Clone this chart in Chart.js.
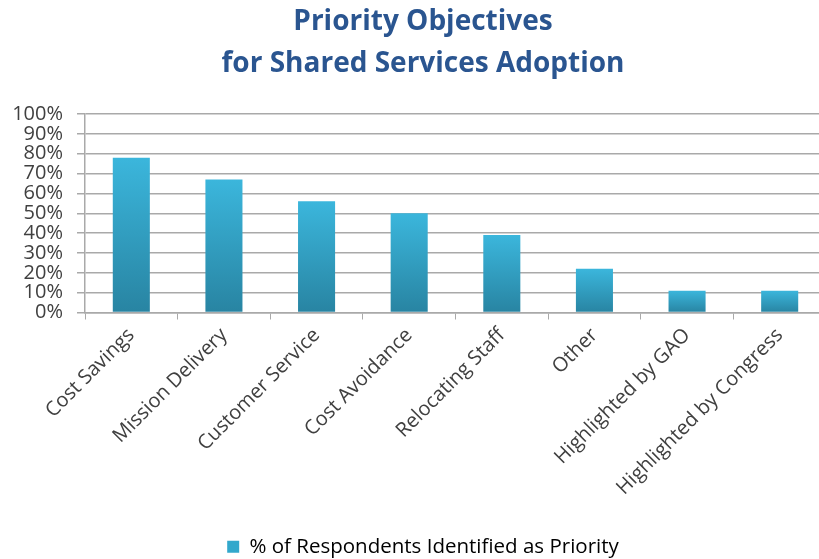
<!DOCTYPE html>
<html>
<head>
<meta charset="utf-8">
<script src="https://cdn.jsdelivr.net/npm/chart.js@4/dist/chart.umd.min.js"></script>
<style>
  html, body { margin: 0; padding: 0; background: #ffffff; overflow: hidden; }
  #wrap { position: relative; width: 846px; height: 567px; }
</style>
</head>
<body>
<div id="wrap"><canvas id="chart"></canvas></div>
<script>
// Survey results: share of respondents naming each objective as a priority
const categories = [
  'Cost Savings', 'Mission Delivery', 'Customer Service', 'Cost Avoidance',
  'Relocating Staff', 'Other', 'Highlighted by GAO', 'Highlighted by Congress'
];
const seriesName = '% of Respondents Identified as Priority';
const percentValues = [78, 67, 56, 50, 39, 22, 11, 11];
const titleLines = ['Priority Objectives', 'for Shared Services Adoption'];

const FONT = "'Open Sans', 'Liberation Sans', sans-serif";
const TEXT = '#404040';
const GRID = '#a9a9a9';
const BAR_TOP = '#3bb6dc';
const BAR_BOTTOM = '#2884a2';

// Each bar gets its own vertical gradient, light at its top and darker at the base
function barFill(ctx) {
  const chart = ctx.chart;
  const y = chart.scales.y;
  if (!chart.chartArea || !y || ctx.raw === undefined) return BAR_TOP;
  const top = y.getPixelForValue(ctx.raw);
  const base = y.getPixelForValue(0);
  if (!isFinite(top) || !isFinite(base) || top === base) return BAR_TOP;
  const g = chart.ctx.createLinearGradient(0, top, 0, base);
  g.addColorStop(0, BAR_TOP);
  g.addColorStop(1, BAR_BOTTOM);
  return g;
}

new Chart(document.getElementById('chart'), {
  type: 'bar',
  data: {
    labels: categories,
    datasets: [{
      label: seriesName,
      data: percentValues,
      backgroundColor: barFill,
      borderWidth: 0,
      categoryPercentage: 0.8,
      barPercentage: 0.5
    }]
  },
  options: {
    responsive: true,
    maintainAspectRatio: false,
    animation: false,
    layout: { padding: { left: 0, right: 0, top: 0, bottom: 0 } },
    plugins: {
      tooltip: { enabled: false },
      title: {
        display: true,
        text: titleLines,
        color: '#2a5590',
        font: { family: FONT, size: 28, weight: 'bold', lineHeight: 1.5 },
        padding: { top: 1, bottom: 29 }
      },
      legend: {
        display: true,
        position: 'bottom',
        labels: {
          color: TEXT,
          font: { family: FONT, size: 20.5, lineHeight: 1 },
          boxWidth: 12,
          boxHeight: 12,
          padding: 0,
          generateLabels: (chart) => [{
            text: seriesName,
            fillStyle: '#32a8cc',
            strokeStyle: '#32a8cc',
            lineWidth: 0,
            datasetIndex: 0,
            hidden: false
          }]
        }
      }
    },
    scales: {
      x: {
        offset: true,
        grid: {
          display: true,
          offset: true,
          drawOnChartArea: false,
          drawTicks: true,
          tickLength: 7,
          color: GRID
        },
        border: { display: true, color: GRID, width: 1.5 },
        ticks: {
          color: TEXT,
          font: { family: FONT, size: 20 },
          minRotation: 45,
          maxRotation: 45,
          autoSkip: false,
          padding: 4
        },
        afterFit: (scale) => { scale.height = 224; }
      },
      y: {
        min: 0,
        max: 100,
        grid: {
          color: GRID,
          lineWidth: 1.5,
          drawTicks: true,
          tickLength: 8
        },
        border: { display: true, color: GRID, width: 1.5 },
        ticks: {
          stepSize: 10,
          autoSkip: false,
          color: TEXT,
          font: { family: FONT, size: 20, lineHeight: 1 },
          padding: 14,
          callback: (v) => v + '%'
        },
        afterFit: (scale) => { scale.width = 85; }
      },
      // blank margin on the right of the plot, nothing drawn
      margin: {
        position: 'right',
        display: true,
        grid: { display: false, drawTicks: false },
        border: { display: false },
        ticks: { display: false },
        afterFit: (scale) => { scale.width = 20; }
      }
    }
  }
});
</script>
</body>
</html>
